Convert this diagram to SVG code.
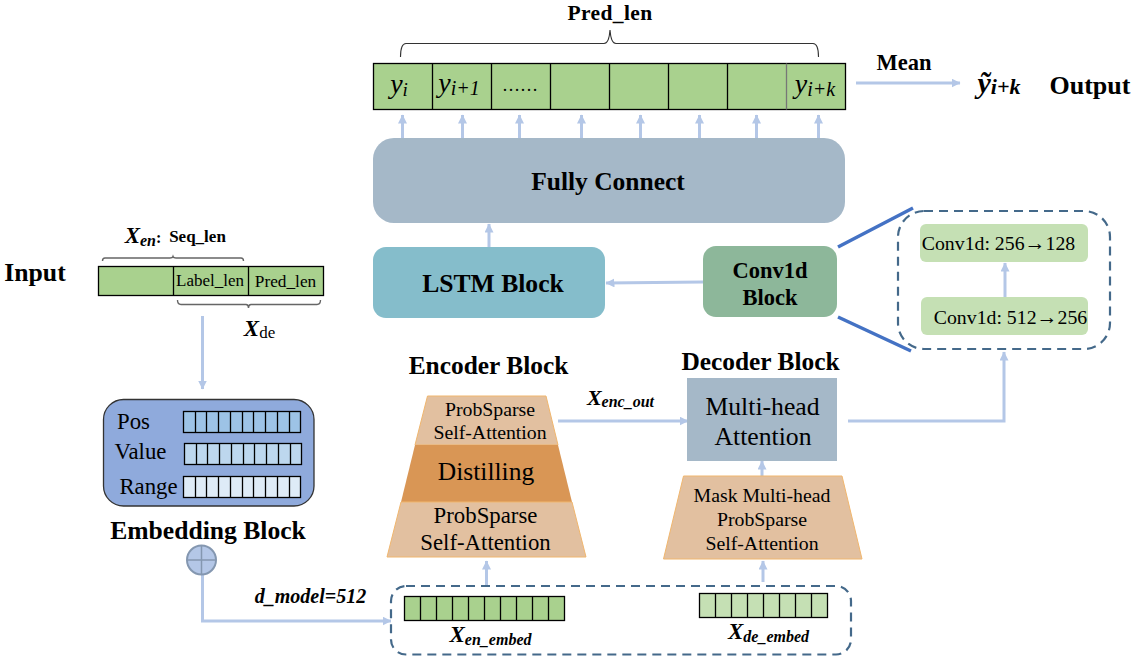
<svg xmlns="http://www.w3.org/2000/svg" width="1132" height="662" viewBox="0 0 1132 662">
<style>
text{font-family:"Liberation Serif","Times New Roman",serif;fill:#000;text-anchor:middle}
.b{font-weight:bold}
.bi{font-weight:bold;font-style:italic}
.i{font-style:italic}
.cell{stroke:#000;stroke-width:1.3}
.arrow{fill:none;stroke:#B4C7E7;stroke-width:3;marker-end:url(#ah)}
.dash{fill:#fff;stroke:#44698A;stroke-width:2.2;stroke-dasharray:9 6}
.brace{fill:none;stroke:#333;stroke-width:1.1}
.brace2{fill:none;stroke:#666;stroke-width:1.4}
.zoomline{stroke:#4472C4;stroke-width:3.5;fill:none}
.ar{font-family:"Liberation Sans",sans-serif;font-size:21px}
</style>
<defs>
<marker id="ah" markerUnits="userSpaceOnUse" markerWidth="10" markerHeight="9" refX="8.5" refY="4.5" orient="auto"><path d="M0 0L9 4.5L0 9Z" fill="#B4C7E7"/></marker>
</defs>
<g id="connectors">
<path class="arrow" d="M402.500 138V115"/>
<path class="arrow" d="M462.500 138V115"/>
<path class="arrow" d="M519.500 138V115"/>
<path class="arrow" d="M581.500 138V115"/>
<path class="arrow" d="M640.500 138V115"/>
<path class="arrow" d="M699.500 138V115"/>
<path class="arrow" d="M756.500 138V115"/>
<path class="arrow" d="M818.500 138V115"/>
<path class="arrow" d="M856 83H960"/>
<path class="arrow" d="M489 247V224"/>
<path class="arrow" d="M703 282L606 283"/>
<path class="arrow" d="M848 421H1004V352"/>
<path class="arrow" d="M558 421L688 421"/>
<path class="arrow" d="M762 476V461"/>
<path class="arrow" d="M486.500 586V561"/>
<path class="arrow" d="M763 582V561"/>
<path class="arrow" d="M202.500 316V389"/>
<path class="arrow" d="M202.500 575V621H391"/>
</g>
<g id="pred-brace"><path class="brace" d="M400.500 57Q400.500 43.500 406 43.500H604Q609 43.500 610 30Q611 43.500 616 43.500H813Q818.500 43.500 818.500 57"/></g>
<text class="b" x="610" y="19.500" font-size="21.500" letter-spacing="0.400">Pred_len</text>
<g id="output-bar">
<rect x="373.500" y="63.500" width="472" height="46" fill="#A9D18E" stroke="#000" stroke-width="1.300"/>
<path class="cell" fill="none" d="M432.500 63.500V109.500M491.500 63.500V109.500M550.500 63.500V109.500M609.500 63.500V109.500M668.500 63.500V109.500M727.500 63.500V109.500"/>
<path d="M786.500 63.500V109.500" stroke="#777" stroke-width="1.300"/>
<text class="i" x="399" y="93" font-size="28">y<tspan font-size="19" dy="3">i</tspan></text>
<text class="i" x="459" y="92" font-size="28">y<tspan font-size="20" dy="3">i+1</tspan></text>
<text x="520" y="91" font-size="18">……</text>
<text class="i" x="815" y="93" font-size="28">y<tspan font-size="20" dy="3">i+k</tspan></text>
</g>
<text class="b" x="904" y="70" font-size="22.500">Mean</text>
<text class="bi" x="999" y="93" font-size="30">ỹ<tspan font-size="22" dy="1">i+k</tspan></text>
<text class="b" x="1090" y="94" font-size="26">Output</text>
<g id="fully-connect"><rect x="373" y="138" width="472" height="85" rx="21" fill="#A5B8C8"/><text class="b" x="608" y="190" font-size="25.500">Fully Connect</text></g>
<g id="lstm"><rect x="373" y="247" width="232" height="71" rx="13" fill="#85BDCB"/><text class="b" x="493" y="292" font-size="25.600">LSTM Block</text></g>
<g id="conv1d"><rect x="703" y="246" width="134" height="71" rx="13" fill="#8DB79A"/><text class="b" x="770" y="278" font-size="22.500">Conv1d</text><text class="b" x="770" y="305" font-size="22.500">Block</text></g>
<g id="conv-detail">
<rect class="dash" x="898" y="211" width="212" height="138" rx="26"/>
<path class="zoomline" d="M838 247L913 208M838 317L911 351"/>
<rect x="920" y="224" width="168" height="38" rx="6" fill="#C5E0B4"/>
<text x="998.500" y="250" font-size="19.800">Conv1d: 256<tspan class="ar">→</tspan>128</text>
<rect x="921" y="297" width="167" height="38" rx="6" fill="#C5E0B4"/>
<text x="1010.500" y="324" font-size="19.800">Conv1d: 512<tspan class="ar">→</tspan>256</text>
<path class="arrow" d="M1005 297V263"/>
</g>
<text class="b" x="35" y="281" font-size="25.700">Input</text>
<g id="input-bar">
<rect x="98.500" y="266.500" width="225" height="29" fill="#A9D18E" stroke="#000" stroke-width="1.300"/>
<path class="cell" d="M173.500 266.500V295.500M248.500 266.500V295.500"/>
<text x="210" y="286" font-size="17">Label_len</text>
<text x="285.500" y="287" font-size="17.300">Pred_len</text>
<path class="brace2" d="M102.500 261Q102.500 258 105 258H170Q172.500 258 173 256.500Q173.500 258 176 258H241Q243.500 258 243.500 261"/>
<path class="brace2" d="M177.500 300Q177.500 304.500 181 304.500H246Q248.500 304.500 248.500 308Q248.500 304.500 251 304.500H317Q320.500 304.500 320.500 300"/>
<text class="bi" x="143" y="243" font-size="23">X<tspan font-size="16" dy="3">en</tspan><tspan font-style="normal" font-size="16" dy="-3">:</tspan></text>
<text class="b" x="197.500" y="242" font-size="17">Seq_len</text>
<text class="bi" x="259.500" y="336" font-size="23">X<tspan font-style="normal" font-weight="normal" font-size="17" dy="2">de</tspan></text>
</g>
<g id="embedding">
<rect x="103.500" y="399.500" width="210.500" height="106.500" rx="20" fill="#8FAADC" stroke="#333" stroke-width="1.300"/>
<text x="133.500" y="429" font-size="22.800">Pos</text>
<text x="140.500" y="459" font-size="22.800">Value</text>
<text x="148.500" y="494" font-size="22.800">Range</text>
<rect x="183.500" y="411.500" width="117" height="21" fill="#9DC3E6" stroke="#000" stroke-width="1.300"/>
<path class="cell" d="M195.500 411.500V432.500M206.500 411.500V432.500M218.500 411.500V432.500M230.500 411.500V432.500M242.500 411.500V432.500M253.500 411.500V432.500M265.500 411.500V432.500M277.500 411.500V432.500M289.500 411.500V432.500"/>
<rect x="184.500" y="443.500" width="117" height="21" fill="#BDD7EE" stroke="#000" stroke-width="1.300"/>
<path class="cell" d="M196.500 443.500V464.500M207.500 443.500V464.500M219.500 443.500V464.500M231.500 443.500V464.500M243.500 443.500V464.500M254.500 443.500V464.500M266.500 443.500V464.500M278.500 443.500V464.500M290.500 443.500V464.500"/>
<rect x="183.500" y="476.500" width="117" height="21" fill="#DEEBF7" stroke="#000" stroke-width="1.300"/>
<path class="cell" d="M195.500 476.500V497.500M206.500 476.500V497.500M218.500 476.500V497.500M230.500 476.500V497.500M242.500 476.500V497.500M253.500 476.500V497.500M265.500 476.500V497.500M277.500 476.500V497.500M289.500 476.500V497.500"/>
<text class="b" x="208" y="539" font-size="25.600">Embedding Block</text>
</g>
<g id="sum">
<circle cx="201.500" cy="560" r="14.500" fill="#B4C7E7" stroke="#8497B0" stroke-width="2"/>
<path d="M187 560H216M201.500 545.500V574.500" stroke="#8497B0" stroke-width="1.500"/>
</g>
<text class="bi" x="310.500" y="603" font-size="20">d_model=512</text>
<g id="encoder">
<text class="b" x="488.500" y="374" font-size="25.400">Encoder Block</text>
<path d="M427.500 396H546L558 445H415Z" fill="#E2C0A0" stroke="#F0B66E" stroke-width="1"/>
<path d="M415 445H558L572 502H401Z" fill="#D99655"/>
<path d="M401 502H572L586 557H387Z" fill="#E2C0A0" stroke="#F0B66E" stroke-width="1"/>
<text x="490" y="416" font-size="19.800">ProbSparse</text>
<text x="490" y="439" font-size="19.800">Self-Attention</text>
<text x="486" y="480" font-size="25.500">Distilling</text>
<text x="485.500" y="523" font-size="22.800">ProbSparse</text>
<text x="485.500" y="550" font-size="22.800">Self-Attention</text>
</g>
<text class="bi" x="620.500" y="405" font-size="22">X<tspan font-size="16" dy="2">enc_out</tspan></text>
<g id="decoder">
<text class="b" x="760.500" y="370" font-size="25.400">Decoder Block</text>
<rect x="687" y="378" width="150" height="83" fill="#A5B8C8"/>
<text x="762.500" y="415" font-size="25.700">Multi-head</text>
<text x="763" y="445" font-size="25.700">Attention</text>
<path d="M683.500 476H842L862 559H663.500Z" fill="#E2C0A0" stroke="#F0B66E" stroke-width="1"/>
<text x="762" y="502" font-size="19.800">Mask Multi-head</text>
<text x="762" y="526" font-size="19.800">ProbSparse</text>
<text x="762" y="550" font-size="19.800">Self-Attention</text>
</g>
<g id="embed-box">
<rect class="dash" x="391" y="586" width="460" height="68.500" rx="15"/>
<rect x="404.500" y="596.500" width="160" height="24" fill="#A9D18E" stroke="#000" stroke-width="1.300"/>
<path class="cell" d="M420.500 596.500V620.500M436.500 596.500V620.500M452.500 596.500V620.500M468.500 596.500V620.500M484.500 596.500V620.500M500.500 596.500V620.500M516.500 596.500V620.500M532.500 596.500V620.500M548.500 596.500V620.500"/>
<text class="bi" x="490.500" y="642" font-size="23">X<tspan font-size="16" dy="3">en_embed</tspan></text>
<rect x="699.500" y="593.500" width="128" height="24" fill="#C5E0B4" stroke="#000" stroke-width="1.300"/>
<path class="cell" d="M715.500 593.500V617.500M731.500 593.500V617.500M747.500 593.500V617.500M763.500 593.500V617.500M779.500 593.500V617.500M795.500 593.500V617.500M811.500 593.500V617.500"/>
<text class="bi" x="768.500" y="639" font-size="23">X<tspan font-size="16" dy="3">de_embed</tspan></text>
</g>
</svg>
